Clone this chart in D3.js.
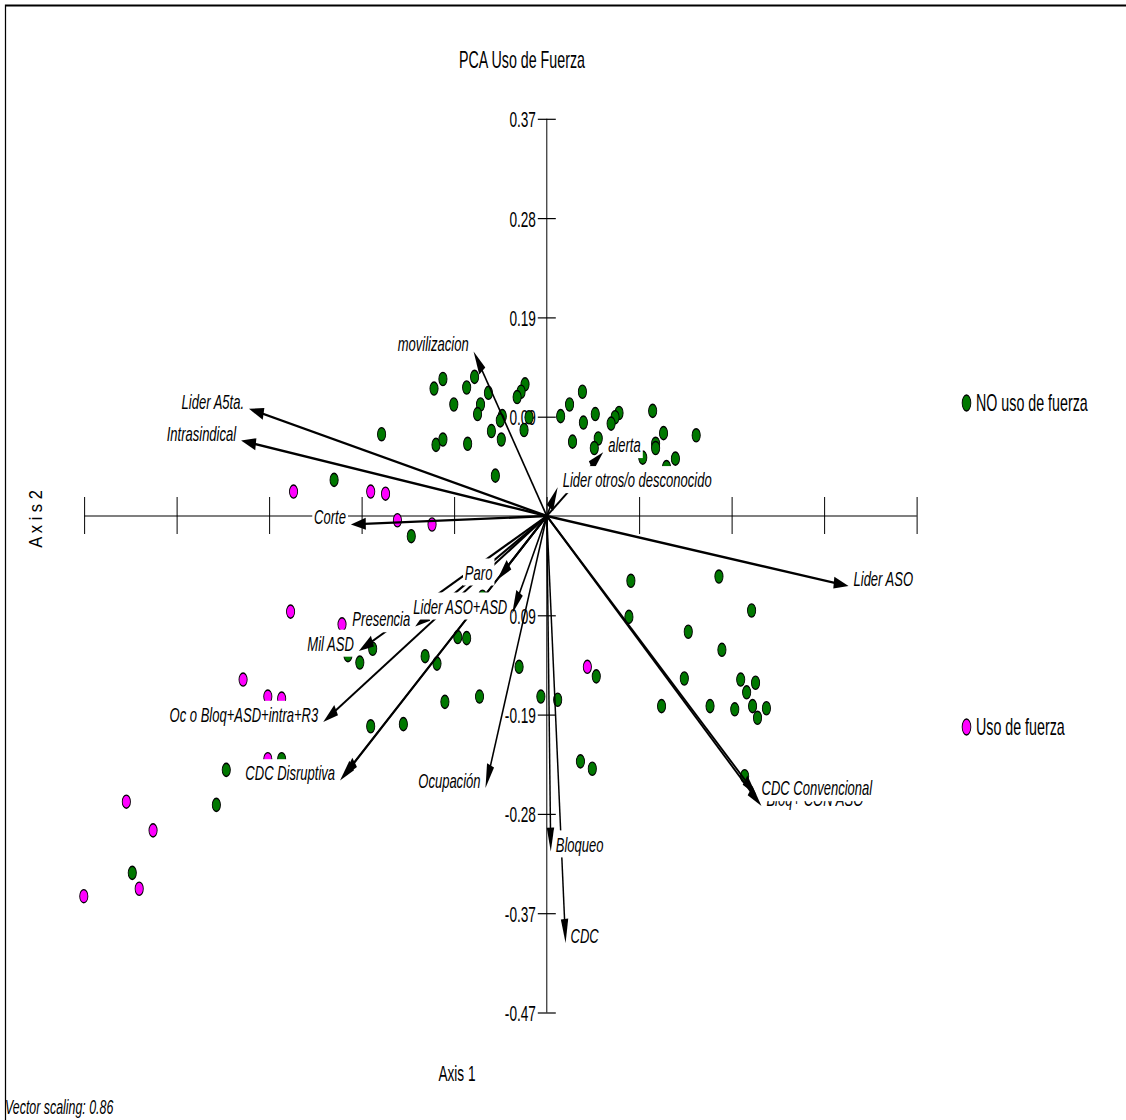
<!DOCTYPE html>
<html>
<head>
<meta charset="utf-8">
<script src="https://cdn.jsdelivr.net/npm/d3@7"></script>
<style>
  body { margin: 0; background: #fff; }
  text { font-family: "Liberation Sans", Arial, sans-serif; }
</style>
</head>
<body>
<script>
// PCA biplot - Uso de Fuerza

// sample scores, group "NO uso de fuerza"
let noFuerzaAxis1 = [-0.105,-0.114,-0.081,-0.073,-0.094,-0.059,-0.067,-0.070,-0.045,-0.047,-0.056,-0.046,
  -0.022,-0.026,-0.030,-0.018,-0.023,-0.167,-0.112,-0.105,-0.080,-0.052,0.036,0.023,0.014,0.037,0.049,
  0.026,0.052,0.048,0.073,0.069,0.065,0.107,0.118,0.110,0.110,0.151,0.130,0.097,0.121,-0.215,-0.137,
  -0.065,-0.176,-0.201,-0.189,-0.090,-0.081,-0.123,-0.111,-0.028,-0.006,0.011,0.050,-0.103,-0.068,
  -0.178,-0.145,-0.324,0.034,0.046,-0.268,-0.334,-0.419,0.085,0.174,0.207,0.083,0.143,0.177,0.139,
  0.196,0.211,0.202,0.208,0.222,0.213,0.190,0.165,0.116,0.200];
let noFuerzaAxis2 = [0.129,0.120,0.121,0.131,0.105,0.116,0.105,0.096,0.094,0.090,0.080,0.072,
  0.124,0.117,0.112,0.093,0.081,0.077,0.067,0.072,0.068,0.038,0.117,0.105,0.094,0.088,0.096,
  0.070,0.073,0.064,0.097,0.093,0.087,0.099,0.078,0.068,0.064,0.076,0.054,0.055,0.046,0.034,-0.019,
  -0.076,-0.125,-0.131,-0.138,-0.114,-0.115,-0.132,-0.139,-0.142,-0.170,-0.173,-0.151,-0.175,-0.170,
  -0.198,-0.196,-0.239,-0.231,-0.238,-0.229,-0.272,-0.336,-0.061,-0.057,-0.089,-0.095,-0.109,-0.126,-0.153,
  -0.154,-0.157,-0.166,-0.179,-0.181,-0.190,-0.182,-0.179,-0.179,-0.245];

// sample scores, group "Uso de fuerza"
let usoFuerzaAxis1 = [-0.178,-0.163,-0.151,-0.116,-0.256,-0.259,-0.207,-0.307,-0.282,-0.268,-0.282,0.041,
  -0.425,-0.398,-0.412,-0.468];
let usoFuerzaAxis2 = [0.023,0.021,-0.004,-0.008,0.023,-0.090,-0.102,-0.154,-0.170,-0.172,-0.229,-0.142,
  -0.269,-0.296,-0.351,-0.358];

// variable vectors (already scaled)
let vectorNames = ["movilizacion","Lider A5ta.","Intrasindical","Corte","Lider otros/o desconocido","alerta",
  "Lider ASO","Bloq+ CON ASO","CDC Convencional","CDC","Bloqueo","Ocupación","","CDC Disruptiva",
  "Oc o Bloq+ASD+intra+R3","Mil ASD","Presencia","Lider ASO+ASD","Paro"];
let vectorAxis1 = [-0.074,-0.301,-0.309,-0.198,0.011,0.057,0.305,0.217,0.212,0.019,0.004,-0.062,-0.206,-0.209,
  -0.226,-0.190,-0.133,-0.035,-0.050];
let vectorAxis2 = [0.155,0.101,0.071,-0.008,0.027,0.060,-0.066,-0.273,-0.263,-0.402,-0.316,-0.256,-0.246,-0.249,
  -0.194,-0.127,-0.104,-0.092,-0.060];

let xTickValues = [-0.4675,-0.374,-0.2805,-0.187,-0.0935,0,0.0935,0.187,0.2805,0.374];
let yTickValues = [0.374,0.2805,0.187,0.0935,-0.0935,-0.187,-0.2805,-0.374,-0.4675];
let yTickLabels = ["0.37","0.28","0.19","0.09","-0.09","-0.19","-0.28","-0.37","-0.47"];

let groupNames = ["NO uso de fuerza","Uso de fuerza"];
let groupColors = ["#007800","#ff00ff"];

// the picture is squeezed sideways, so draw in a wider space and scale x
let SX = 0.62;
let svgWidth = 1126;
let svgHeight = 1120;

let svg = d3.select("body")
  .append("svg")
  .attr("width", svgWidth)
  .attr("height", svgHeight);

svg.append("rect").attr("width", svgWidth).attr("height", svgHeight).attr("fill", "#fff");

let g = svg.append("g").attr("transform", `scale(${SX},1)`);

let x = d3.scaleLinear().domain([-0.4675, 0.374]).range([84.3 / SX, 916.8 / SX]);
let y = d3.scaleLinear().domain([-0.4675, 0.374]).range([1012.5, 118.8]);

// frame (only top and left edges fall inside the picture)
g.append("path")
  .attr("d", `M${5.5 / SX},${svgHeight + 10}V5.5H${(svgWidth + 10) / SX}`)
  .attr("fill", "none").attr("stroke", "#000").attr("stroke-width", 2);

// axis lines
g.append("line")
  .attr("x1", x(-0.4675)).attr("x2", x(0.374))
  .attr("y1", y(0)).attr("y2", y(0))
  .attr("stroke", "#000").attr("stroke-width", 1.2);
g.append("line")
  .attr("x1", x(0)).attr("x2", x(0))
  .attr("y1", y(0.374)).attr("y2", y(-0.4675))
  .attr("stroke", "#000").attr("stroke-width", 1.6);

// ticks on the horizontal axis (no labels)
let xAxisG = g.append("g")
  .attr("transform", `translate(0,${y(0) - 19})`)
  .call(d3.axisBottom(x).tickValues(xTickValues).tickSize(37).tickFormat(""));
xAxisG.select(".domain").remove();
xAxisG.selectAll("line").attr("stroke", "#000").attr("stroke-width", 1.6);

// ticks on the vertical axis
let yAxisG = g.append("g")
  .attr("transform", `translate(${x(0) + 9 / SX},0)`)
  .call(d3.axisLeft(y).tickValues(yTickValues).tickSize(18 / SX).tickPadding(3)
    .tickFormat((d, i) => yTickLabels[i]));
yAxisG.select(".domain").remove();
yAxisG.selectAll("line").attr("stroke", "#000").attr("stroke-width", 1.2);
yAxisG.selectAll("text")
  .attr("fill", "#000")
  .attr("font-size", 22)
  .attr("font-family", "Liberation Sans, Arial, sans-serif")
  .attr("dy", "0.36em");

// points
let pointGroups = [
  {ax1: noFuerzaAxis1, ax2: noFuerzaAxis2, color: groupColors[0]},
  {ax1: usoFuerzaAxis1, ax2: usoFuerzaAxis2, color: groupColors[1]}
];
pointGroups.forEach(pg => {
  g.append("g").selectAll("circle")
    .data(d3.range(pg.ax1.length))
    .enter()
    .append("circle")
    .attr("cx", i => x(pg.ax1[i]))
    .attr("cy", i => y(pg.ax2[i]))
    .attr("r", 6.6)
    .attr("fill", pg.color)
    .attr("stroke", "#000")
    .attr("stroke-width", 1.4);
});

// vectors
let ox = x(0), oy = y(0);
let headLen = 24, headHalf = 6;
let vecG = g.append("g");
vectorNames.forEach((name, i) => {
  let tx = x(vectorAxis1[i]), ty = y(vectorAxis2[i]);
  let dx = tx - ox, dy = ty - oy;
  let len = Math.sqrt(dx * dx + dy * dy);
  let ux = dx / len, uy = dy / len;
  let bx = tx - ux * headLen, by = ty - uy * headLen;
  vecG.append("line")
    .attr("x1", ox).attr("y1", oy)
    .attr("x2", tx - ux * headLen * 0.5).attr("y2", ty - uy * headLen * 0.5)
    .attr("stroke", "#000").attr("stroke-width", 2.4);
  vecG.append("polygon")
    .attr("points", [[tx, ty], [bx - uy * headHalf, by + ux * headHalf], [bx + uy * headHalf, by - ux * headHalf]]
      .map(p => p.join(",")).join(" "))
    .attr("fill", "#000");
});

// vector labels, with white boxes behind them
let labG = g.append("g");
vectorNames.forEach((name, i) => {
  if (name === "") return;
  let tx = x(vectorAxis1[i]), ty = y(vectorAxis2[i]);
  let left = vectorAxis1[i] < 0;
  let lg = labG.append("g")
    .attr("transform", `translate(${tx + (left ? -8 : 8)},${ty})`);
  let bg = lg.append("rect").attr("fill", "#fff");
  let t = lg.append("text")
    .attr("text-anchor", left ? "end" : "start")
    .attr("font-size", 21)
    .attr("font-style", "italic")
    .attr("fill", "#000")
    .text(name);
  let bb = t.node().getBBox();
  bg.attr("x", bb.x - 3).attr("y", bb.y - 2)
    .attr("width", bb.width + 6).attr("height", bb.height + 3);
});

// title
g.append("text")
  .attr("x", 522 / SX).attr("y", 68)
  .attr("text-anchor", "middle")
  .attr("font-size", 23)
  .text("PCA Uso de Fuerza");

// axis titles
g.append("text")
  .attr("x", 457 / SX).attr("y", 1081)
  .attr("text-anchor", "middle")
  .attr("font-size", 22)
  .text("Axis 1");

svg.append("text")
  .attr("transform", "translate(42,519) rotate(-90) scale(0.75,0.8)")
  .attr("text-anchor", "middle")
  .attr("font-size", 22)
  .text("A x i s 2");

g.append("text")
  .attr("x", 5 / SX).attr("y", 1114)
  .attr("font-size", 20)
  .attr("font-style", "italic")
  .text("Vector scaling: 0.86");

// legend
let legendY = [403, 727];
groupNames.forEach((name, i) => {
  g.append("ellipse")
    .attr("cx", 966.5 / SX).attr("cy", legendY[i])
    .attr("rx", 7).attr("ry", 8)
    .attr("fill", groupColors[i])
    .attr("stroke", "#000").attr("stroke-width", 1.4);
  g.append("text")
    .attr("x", 976 / SX).attr("y", legendY[i] + 8.5)
    .attr("font-size", 23)
    .text(name);
});
</script>
</body>
</html>
